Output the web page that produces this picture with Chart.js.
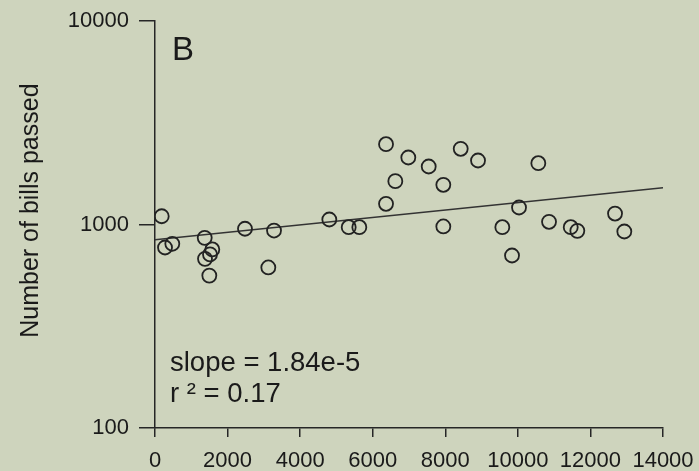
<!DOCTYPE html>
<html>
<head>
<meta charset="utf-8">
<script src="https://cdn.jsdelivr.net/npm/chart.js@4/dist/chart.umd.min.js"></script>
<style>
  html, body { margin: 0; padding: 0; background: #ced4bd; }
  #c { display: block; }
</style>
</head>
<body>
<canvas id="c" width="699" height="471"></canvas>
<script>
// Data
const income = [185, 477, 276, 1370, 1579, 1516, 1378, 1497, 2480, 3280, 3123, 4804, 5338, 5631, 6367, 6623, 6367, 6981, 7543, 7946, 7946, 8425, 8902, 10564, 10032, 9572, 9839, 10859, 11457, 11639, 12678, 12934];
const billsPassed = [1098, 804, 771, 860, 754, 713, 678, 561, 953, 934, 615, 1058, 970, 970, 1264, 1633, 2481, 2134, 1928, 1567, 978, 2355, 2063, 2001, 1212, 970, 704, 1031, 970, 931, 1132, 924];
const fitX = [0, 14000];
const fitY = [841, 1515];
const xTicks = [0, 2000, 4000, 6000, 8000, 10000, 12000, 14000];
const yTicks = [100, 1000, 10000];
const panelLabel = 'B';
const statLines = ['slope = 1.84e-5', 'r \u00B2 = 0.17'];
const yTitle = 'Number of bills passed';

const ink = '#1a1a1a';
const axisColor = '#262626';
const fontFamily = '"Liberation Sans", Arial, Helvetica, sans-serif';

const annotate = {
  id: 'annotate',
  afterDraw(chart) {
    const {ctx, chartArea} = chart;
    ctx.save();
    ctx.fillStyle = ink;
    ctx.textAlign = 'left';
    ctx.textBaseline = 'alphabetic';
    ctx.font = '33px ' + fontFamily;
    ctx.fillText(panelLabel, chartArea.left + 17, chartArea.top + 39);
    ctx.font = '27.5px ' + fontFamily;
    ctx.fillText(statLines[0], chartArea.left + 15, chartArea.bottom - 57);
    ctx.fillText(statLines[1], chartArea.left + 15, chartArea.bottom - 26);
    ctx.restore();
  }
};

new Chart(document.getElementById('c'), {
  type: 'scatter',
  data: {
    datasets: [
      {
        data: income.map((x, i) => ({x: x, y: billsPassed[i]})),
        pointRadius: 7,
        pointBorderWidth: 1.8,
        pointBorderColor: '#222',
        pointBackgroundColor: 'rgba(0,0,0,0)',
        pointHoverRadius: 7
      },
      {
        data: fitX.map((x, i) => ({x: x, y: fitY[i]})),
        showLine: true,
        pointRadius: 0,
        borderColor: '#333',
        borderWidth: 1.5
      }
    ]
  },
  options: {
    responsive: false,
    animation: false,
    devicePixelRatio: 1,
    layout: { padding: { left: 0, top: 21, right: 36, bottom: 0 } },
    plugins: { legend: { display: false }, tooltip: { enabled: false } },
    scales: {
      x: {
        type: 'linear',
        min: 0,
        max: 14000,
        afterBuildTicks: s => { s.ticks = xTicks.map(v => ({value: v})); },
        afterFit: s => { s.height = 43; s.paddingLeft = 0; s.paddingRight = 0; },
        ticks: {
          callback: v => String(v),
          font: { family: fontFamily, size: 22 },
          color: ink,
          padding: 11,
          maxRotation: 0,
          autoSkip: false
        },
        grid: { drawOnChartArea: false, drawTicks: true, tickLength: 9, color: axisColor, lineWidth: 1.5 },
        border: { display: true, color: axisColor, width: 1.5 }
      },
      y: {
        type: 'logarithmic',
        min: 100,
        max: 10000,
        afterBuildTicks: s => { s.ticks = yTicks.map(v => ({value: v})); },
        afterFit: s => { s.width = 155; s.paddingTop = 0; s.paddingBottom = 0; },
        ticks: {
          callback: v => String(v),
          font: { family: fontFamily, size: 22 },
          color: ink,
          padding: 10,
          autoSkip: false
        },
        grid: { drawOnChartArea: false, drawTicks: true, tickLength: 16, color: axisColor, lineWidth: 1.5 },
        border: { display: true, color: axisColor, width: 1.5 },
        title: {
          display: true,
          text: '    ' + yTitle,
          font: { family: fontFamily, size: 25 },
          color: ink,
          padding: { top: 16, bottom: 0 }
        }
      }
    }
  },
  plugins: [annotate]
});
</script>
</body>
</html>
